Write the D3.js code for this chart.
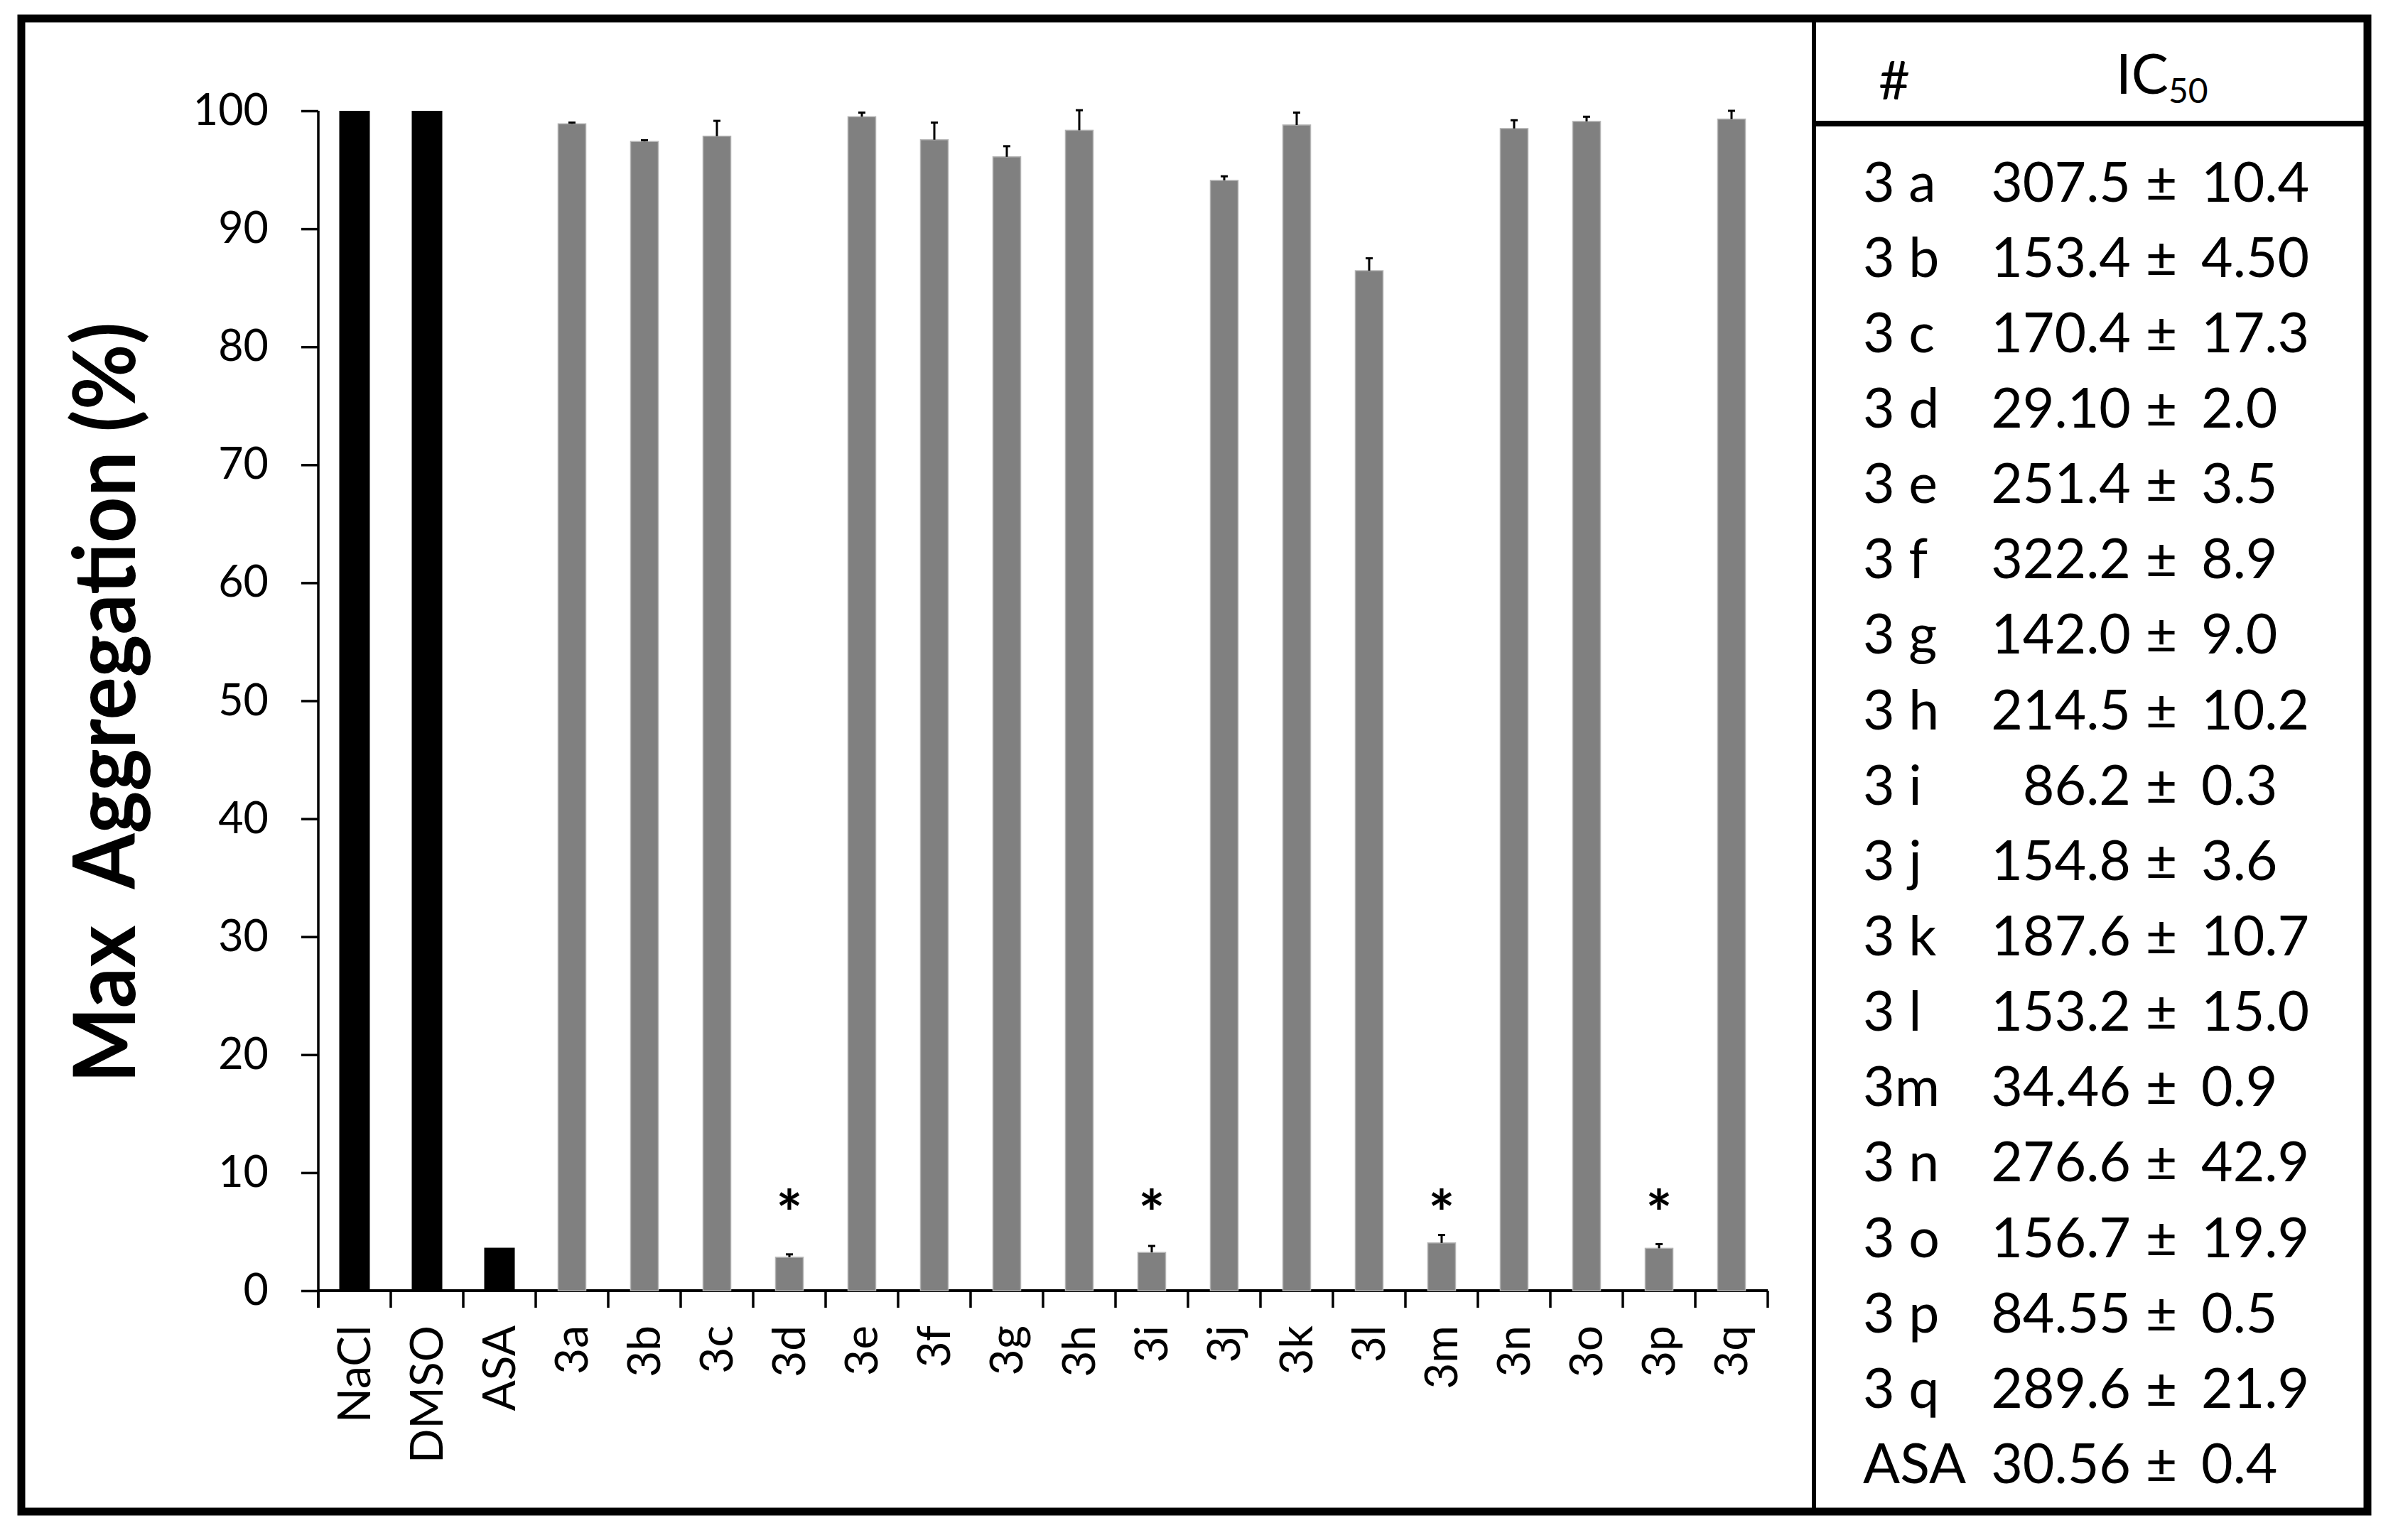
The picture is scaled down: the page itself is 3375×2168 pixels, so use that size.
<!DOCTYPE html>
<html>
<head>
<meta charset="utf-8">
<script src="https://cdn.jsdelivr.net/npm/d3@7"></script>
<style>
  body { margin: 0; background: #fff; }
  text { font-family: Lato, 'Open Sans', sans-serif; fill: #000; }
</style>
</head>
<body>
<div id="chart"></div>
<script>
// bar chart data
const categories = ['NaCl', 'DMSO', 'ASA', '3a', '3b', '3c', '3d', '3e', '3f', '3g', '3h', '3i', '3j', '3k', '3l', '3m', '3n', '3o', '3p', '3q'];
const values = [100, 100, 3.64, 98.9, 97.4, 97.85, 2.83, 99.5, 97.55, 96.1, 98.35, 3.24, 94.1, 98.8, 86.45, 4.05, 98.5, 99.1, 3.59, 99.3];
const errors = [0, 0, 0, 0.1, 0.1, 1.3, 0.25, 0.35, 1.45, 0.9, 1.7, 0.55, 0.35, 1.05, 1.05, 0.67, 0.7, 0.4, 0.36, 0.7];
const controls = ['NaCl', 'DMSO', 'ASA'];
const significant = ['3d', '3i', '3m', '3p'];
const yTicks = [0, 10, 20, 30, 40, 50, 60, 70, 80, 90, 100];

// IC50 table
const tableIds = ['3 a', '3 b', '3 c', '3 d', '3 e', '3 f', '3 g', '3 h', '3 i', '3 j', '3 k', '3 l', '3m', '3 n', '3 o', '3 p', '3 q', 'ASA'];
const ic50 = ['307.5', '153.4', '170.4', '29.10', '251.4', '322.2', '142.0', '214.5', '86.2', '154.8', '187.6', '153.2', '34.46', '276.6', '156.7', '84.55', '289.6', '30.56'];
const ic50Err = ['10.4', '4.50', '17.3', '2.0', '3.5', '8.9', '9.0', '10.2', '0.3', '3.6', '10.7', '15.0', '0.9', '42.9', '19.9', '0.5', '21.9', '0.4'];

const width = 3375;
const height = 2168;

const svg = d3.select('#chart').append('svg')
    .attr('width', width)
    .attr('height', height);

svg.append('rect').attr('width', width).attr('height', height).attr('fill', '#fff');

const x = d3.scaleBand().domain(categories).range([448, 2488]);
const y = d3.scaleLinear().domain([0, 100]).range([1817, 156]);
const tickLen = 24;

//y axis
const yAxis = svg.append('g')
    .attr('transform', `translate(${x.range()[0]},0)`)
    .call(d3.axisLeft(y).tickValues(yTicks).tickSize(tickLen).tickSizeOuter(0).tickPadding(46));
yAxis.select('.domain').remove();
yAxis.selectAll('.tick line').attr('stroke', '#000').attr('stroke-width', 3.5);
yAxis.selectAll('.tick text')
    .style('font-family', 'Lato, sans-serif')
    .style('font-size', '61px');

svg.append('line')
    .attr('x1', x.range()[0]).attr('x2', x.range()[0])
    .attr('y1', y(100)).attr('y2', y(0) + tickLen)
    .attr('stroke', '#000').attr('stroke-width', 3.5);

// x axis line + ticks between categories
svg.append('line')
    .attr('x1', x.range()[0]).attr('x2', x.range()[1])
    .attr('y1', y(0)).attr('y2', y(0))
    .attr('stroke', '#000').attr('stroke-width', 4);

const edges = categories.map((c) => x(c)).concat([x.range()[1]]);
svg.append('g').selectAll('line')
    .data(edges)
    .join('line')
    .attr('x1', (d) => d).attr('x2', (d) => d)
    .attr('y1', y(0)).attr('y2', y(0) + tickLen)
    .attr('stroke', '#000').attr('stroke-width', 3.5);

svg.append('g').selectAll('text')
    .data(categories)
    .join('text')
    .attr('transform', (d) => `translate(${x(d) + x.bandwidth() / 2},1866) rotate(-90)`)
    .attr('text-anchor', 'end')
    .attr('dy', '0.35em')
    .style('font-size', '64px')
    .text((d) => d);

// bars
const barW = (c) => controls.includes(c) ? 43 : 39;
svg.append('g').selectAll('rect')
    .data(categories)
    .join('rect')
    .attr('x', (c) => x(c) + x.bandwidth() / 2 - barW(c) / 2)
    .attr('width', barW)
    .attr('y', (c, i) => y(values[i]))
    .attr('height', (c, i) => y(0) - y(values[i]))
    .attr('fill', (c) => controls.includes(c) ? '#000' : '#808080')
    .attr('stroke', (c) => controls.includes(c) ? 'none' : '#b4b4b4')
    .attr('stroke-width', 1.5);

// error bars (upper only)
const errG = svg.append('g').selectAll('g')
    .data(categories.filter((c, i) => errors[i] > 0))
    .join('g');
errG.append('line')
    .attr('x1', (c) => x(c) + x.bandwidth() / 2)
    .attr('x2', (c) => x(c) + x.bandwidth() / 2)
    .attr('y1', (c) => y(values[categories.indexOf(c)]))
    .attr('y2', (c) => { const i = categories.indexOf(c); return y(values[i] + errors[i]); })
    .attr('stroke', '#000').attr('stroke-width', 3);
errG.append('line')
    .attr('x1', (c) => x(c) + x.bandwidth() / 2 - 5)
    .attr('x2', (c) => x(c) + x.bandwidth() / 2 + 5)
    .attr('y1', (c) => { const i = categories.indexOf(c); return y(values[i] + errors[i]); })
    .attr('y2', (c) => { const i = categories.indexOf(c); return y(values[i] + errors[i]); })
    .attr('stroke', '#000').attr('stroke-width', 3);

// significance marks
svg.append('g').selectAll('text')
    .data(significant)
    .join('text')
    .attr('x', (c) => x(c) + x.bandwidth() / 2)
    .attr('y', 1740)
    .attr('text-anchor', 'middle')
    .style('font-size', '88px')
    .style('font-weight', 'bold')
    .text('*');

// axis title
svg.append('text')
    .attr('transform', 'translate(190,989) rotate(-90)')
    .attr('text-anchor', 'middle')
    .attr('textLength', 1071)
    .attr('lengthAdjust', 'spacingAndGlyphs')
    .style('font-size', '120px')
    .style('font-weight', 'bold')
    .style('white-space', 'pre')
    .text('Max  Aggregation (%)');

// frame
const frame = {left: 30, top: 26, right: 3332, bottom: 2128, divider: 2553, header: 174};
svg.append('rect')
    .attr('x', frame.left).attr('y', frame.top)
    .attr('width', frame.right - frame.left).attr('height', frame.bottom - frame.top)
    .attr('fill', 'none').attr('stroke', '#000').attr('stroke-width', 11);
svg.append('line')
    .attr('x1', frame.divider).attr('x2', frame.divider)
    .attr('y1', frame.top).attr('y2', frame.bottom)
    .attr('stroke', '#000').attr('stroke-width', 6);
svg.append('line')
    .attr('x1', frame.divider).attr('x2', frame.right)
    .attr('y1', frame.header).attr('y2', frame.header)
    .attr('stroke', '#000').attr('stroke-width', 8);

// table header
svg.append('text')
    .attr('x', 2666).attr('y', 140)
    .attr('text-anchor', 'middle')
    .style('font-size', '76px')
    .text('#');
const ic = svg.append('text')
    .attr('x', 2978).attr('y', 132)
    .style('font-size', '78px');
ic.append('tspan').text('IC');
ic.append('tspan').attr('dy', 13).style('font-size', '48px').text('50');

// table rows
const row = d3.scalePoint().domain(tableIds).range([283.5, 2088]);
const rows = svg.append('g').selectAll('g')
    .data(tableIds)
    .join('g')
    .attr('transform', (d) => `translate(0,${row(d)})`)
    .style('font-size', '77px');
rows.append('text')
    .attr('x', 2622)
    .style('white-space', 'pre')
    .text((d) => d);
rows.append('text')
    .attr('x', 2999)
    .attr('text-anchor', 'end')
    .text((d, i) => ic50[i]);
rows.append('text')
    .attr('x', 3042)
    .attr('text-anchor', 'middle')
    .text('±');
rows.append('text')
    .attr('x', 3098)
    .text((d, i) => ic50Err[i]);
</script>
</body>
</html>
